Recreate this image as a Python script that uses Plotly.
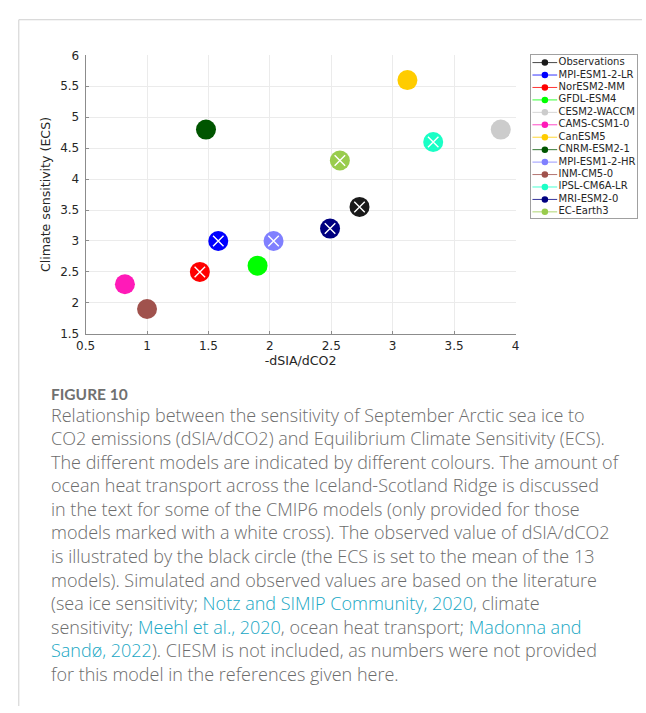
import plotly.graph_objects as go

# Model data: sea-ice sensitivity vs climate sensitivity
models = ["Observations", "MPI-ESM1-2-LR", "NorESM2-MM", "GFDL-ESM4", "CESM2-WACCM",
          "CAMS-CSM1-0", "CanESM5", "CNRM-ESM2-1", "MPI-ESM1-2-HR", "INM-CM5-0",
          "IPSL-CM6A-LR", "MRI-ESM2-0", "EC-Earth3"]
dsia_dco2 = [2.73, 1.58, 1.43, 1.90, 3.88, 0.82, 3.12, 1.48, 2.03, 1.00, 3.33, 2.49, 2.57]
ecs = [3.55, 3.0, 2.5, 2.6, 4.8, 2.3, 5.6, 4.8, 3.0, 1.9, 4.6, 3.2, 4.3]
heat_transport = [True, True, True, False, False, False, False, False, True, False, True, True, True]
colors = ["#1a1a1a", "#0000ff", "#ff0000", "#00ff00", "#cccccc", "#ff1ab8", "#ffcc00",
          "#005500", "#8080ff", "#a0524d", "#1affc6", "#000080", "#99cc4d"]

x_ticks = [0.5, 1, 1.5, 2, 2.5, 3, 3.5, 4]
y_ticks = [1.5, 2, 2.5, 3, 3.5, 4, 4.5, 5, 5.5, 6]

caption_title = "FIGURE 10"
LINK = "#17a7c4"
caption_lines = [
    "Relationship between the sensitivity of September Arctic sea ice to",
    "CO2 emissions (dSIA/dCO2) and Equilibrium Climate Sensitivity (ECS).",
    "The different models are indicated by different colours. The amount of",
    "ocean heat transport across the Iceland-Scotland Ridge is discussed",
    "in the text for some of the CMIP6 models (only provided for those",
    "models marked with a white cross). The observed value of dSIA/dCO2",
    "is illustrated by the black circle (the ECS is set to the mean of the 13",
    "models). Simulated and observed values are based on the literature",
    f"(sea ice sensitivity; <span style='color:{LINK}'>Notz and SIMIP Community, 2020</span>, climate",
    f"sensitivity; <span style='color:{LINK}'>Meehl et al., 2020</span>, ocean heat transport; <span style='color:{LINK}'>Madonna and</span>",
    f"<span style='color:{LINK}'>Sandø, 2022</span>). CIESM is not included, as numbers were not provided",
    "for this model in the references given here.",
]

W, H = 646, 713
def px(x):
    return x / W
def py(y):
    return 1 - y / H

fig = go.Figure()

# scatter points
for name, xv, yv, c in zip(models, dsia_dco2, ecs, colors):
    fig.add_trace(go.Scatter(x=[xv], y=[yv], mode="markers", name=name, showlegend=False,
                             marker=dict(size=20, color=c, line=dict(width=0)),
                             xaxis="x", yaxis="y", hoverinfo="name+x+y"))

# white crosses for models with ocean heat transport numbers
cx = [xv for xv, f in zip(dsia_dco2, heat_transport) if f]
cy = [yv for yv, f in zip(ecs, heat_transport) if f]
fig.add_trace(go.Scatter(x=cx, y=cy, mode="markers", showlegend=False, hoverinfo="skip",
                         marker=dict(symbol="x-thin", size=10.5,
                                     line=dict(color="white", width=1.4))))

# legend drawn in its own small subplot
rows = list(range(len(models)))
LX0, LXM, LX1, LXT = 0.016, 0.133, 0.249, 0.262
for i, c in zip(rows, colors):
    fig.add_trace(go.Scatter(x=[LX0, LX1], y=[i, i], mode="lines", showlegend=False,
                             line=dict(color=c, width=0.8), hoverinfo="skip",
                             xaxis="x2", yaxis="y2"))
fig.add_trace(go.Scatter(x=[LXM] * len(models), y=rows, mode="markers", showlegend=False,
                         marker=dict(size=6.5, color=colors, line=dict(width=0)),
                         hoverinfo="skip", xaxis="x2", yaxis="y2"))
fig.add_trace(go.Scatter(x=[LXT] * len(models), y=rows, mode="text", text=models,
                         textposition="middle right", showlegend=False, hoverinfo="skip",
                         textfont=dict(family="DejaVu Sans", size=10, color="#262626"),
                         xaxis="x2", yaxis="y2"))

axis_font = dict(family="DejaVu Sans", size=12, color="#262626")
title_font = dict(family="DejaVu Sans", size=12.6, color="#262626")
common = dict(showgrid=True, gridcolor="#ebebeb", gridwidth=1, zeroline=False,
              showline=True, linecolor="#8c8c8c", linewidth=1,
              ticks="inside", ticklen=3, tickcolor="#8c8c8c", tickfont=axis_font)

fig.update_layout(
    width=W, height=H, margin=dict(l=0, r=0, t=0, b=0),
    paper_bgcolor="white", plot_bgcolor="white", showlegend=False,
    xaxis=dict(domain=[px(77.3), px(516.7)], range=[0.5, 4], tickvals=x_ticks,
               ticklabelstandoff=1,
               title=dict(text="-dSIA/dCO2", font=title_font, standoff=3), **common),
    yaxis=dict(domain=[py(333.3), py(49.3)], range=[1.5, 6], tickvals=y_ticks,
               ticklabelstandoff=3,
               title=dict(text="Climate sensitivity (ECS)", font=title_font, standoff=6),
               **common),
    xaxis2=dict(domain=[px(532.3), px(640.7)], range=[0, 1], anchor="y2",
                showgrid=False, zeroline=False, showticklabels=False, ticks="",
                showline=True, mirror=True, linecolor="#a0a0a0", linewidth=1),
    yaxis2=dict(domain=[py(215.7), py(49)], range=[12.53, -0.607], anchor="x2",
                showgrid=False, zeroline=False, showticklabels=False, ticks="",
                showline=True, mirror=True, linecolor="#a0a0a0", linewidth=1),
)

# page frame
fig.add_shape(type="line", xref="paper", yref="paper", x0=px(9), x1=1, y0=py(13), y1=py(13),
              line=dict(color="#cfcfcf", width=1))
fig.add_shape(type="line", xref="paper", yref="paper", x0=px(9), x1=px(9), y0=py(13), y1=0,
              line=dict(color="#cfcfcf", width=1))

# caption
fig.add_annotation(text=f"<b>{caption_title}</b>", xref="paper", yref="paper",
                   x=px(40), y=py(395), xanchor="left", yanchor="middle", showarrow=False,
                   font=dict(family="Lato", size=15.5, color="#707070"))
for k, line in enumerate(caption_lines):
    fig.add_annotation(text=line, xref="paper", yref="paper", x=px(40), y=py(416 + 24 * k),
                       xanchor="left", yanchor="middle", showarrow=False, align="left",
                       font=dict(family="Open Sans", size=18, weight=300, color="#6c6c6c"))

fig.write_html("out.html")
